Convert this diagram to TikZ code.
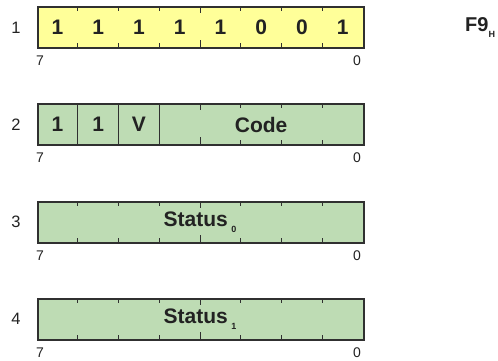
\documentclass[tikz,border=0pt]{standalone}
\usepackage{fontspec}
\setmainfont{Liberation Sans}
\definecolor{byellow}{HTML}{FFFF99}
\definecolor{bgreen}{HTML}{BEDCB4}
\definecolor{bline}{HTML}{303030}
\definecolor{btext}{HTML}{222222}
\tikzset{
  regbox/.style={draw=bline, line width=1.7pt},
  tickline/.style={draw=bline, line width=0.9pt},
  divline/.style={draw=bline, line width=1.1pt},
  bitval/.style={font=\fontsize{21}{23}\selectfont\bfseries, text=btext, inner sep=0pt},
  rownum/.style={font=\fontsize{16.5}{18}\selectfont, text=btext, inner sep=0pt},
  bitidx/.style={font=\fontsize{14}{16}\selectfont, text=btext, inner sep=0pt},
}
\begin{document}
\begin{tikzpicture}[x=1pt,y=-1pt]
\useasboundingbox (0,0) rectangle (498,360);
\def\L{37}\def\R{363}\def\W{40.75}
\newcommand{\regticks}[3]{% top, bottom, first tick index
  \foreach \i in {#3,...,7}{
    \pgfmathsetmacro{\xx}{\L+\i*\W}
    \pgfmathsetmacro{\tl}{ifthenelse(\i==4,7,4.5)}
    \draw[tickline] (\xx,#1) -- (\xx,#1+\tl);
    \draw[tickline] (\xx,#2) -- (\xx,#2-\tl);
  }}
% Row 1
\node[regbox, fill=byellow, minimum width=326pt, minimum height=41pt, inner sep=0pt, anchor=north west] (r1) at (\L,6) {};
\regticks{6}{47}{1}
\foreach \b [count=\k from 0] in {1,1,1,1,1,0,0,1}{
  \node[bitval] (b1\k) at (\L+\W/2+\k*\W,27.5) {\b};
}
\node[rownum] (n1) at (16,27.5) {1};
\node[bitidx] (h1) at (40,61) {7};
\node[bitidx] (l1) at (357,61) {0};
\node[font=\fontsize{20}{22}\selectfont\bfseries, text=btext, inner sep=0pt, anchor=west] (f9) at (465,27.5) {F9\raisebox{-0.5ex}{\fontsize{9}{10}\selectfont H}};
% Row 2
\node[regbox, fill=bgreen, minimum width=326pt, minimum height=41pt, inner sep=0pt, anchor=north west] (r2) at (\L,103) {};
\foreach \i in {1,2,3}{
  \draw[divline] (\L+\i*\W,103) -- (\L+\i*\W,144);
}
\regticks{103}{144}{4}
\node[bitval] (b20) at (\L+\W/2,124.5) {1};
\node[bitval] (b21) at (\L+1.5*\W,124.5) {1};
\node[bitval] (b22) at (\L+2.5*\W,124.5) {V};
\node[bitval] (code) at (\L+5.5*\W,124.5) {Code};
\node[rownum] (n2) at (16,124.5) {2};
\node[bitidx] (h2) at (40,158) {7};
\node[bitidx] (l2) at (357,158) {0};
% Row 3
\node[regbox, fill=bgreen, minimum width=326pt, minimum height=41pt, inner sep=0pt, anchor=north west] (r3) at (\L,201) {};
\regticks{201}{242}{1}
\node[bitval] (s0) at (200,222) {Status\,\raisebox{-0.5ex}{\fontsize{9}{10}\selectfont 0}};
\node[rownum] (n3) at (16,222) {3};
\node[bitidx] (h3) at (40,256) {7};
\node[bitidx] (l3) at (357,256) {0};
% Row 4
\node[regbox, fill=bgreen, minimum width=326pt, minimum height=41pt, inner sep=0pt, anchor=north west] (r4) at (\L,298) {};
\regticks{298}{339}{1}
\node[bitval] (s1) at (200,319) {Status\,\raisebox{-0.5ex}{\fontsize{9}{10}\selectfont 1}};
\node[rownum] (n4) at (16,319) {4};
\node[bitidx] (h4) at (40,353) {7};
\node[bitidx] (l4) at (357,353) {0};
\end{tikzpicture}
\end{document}
